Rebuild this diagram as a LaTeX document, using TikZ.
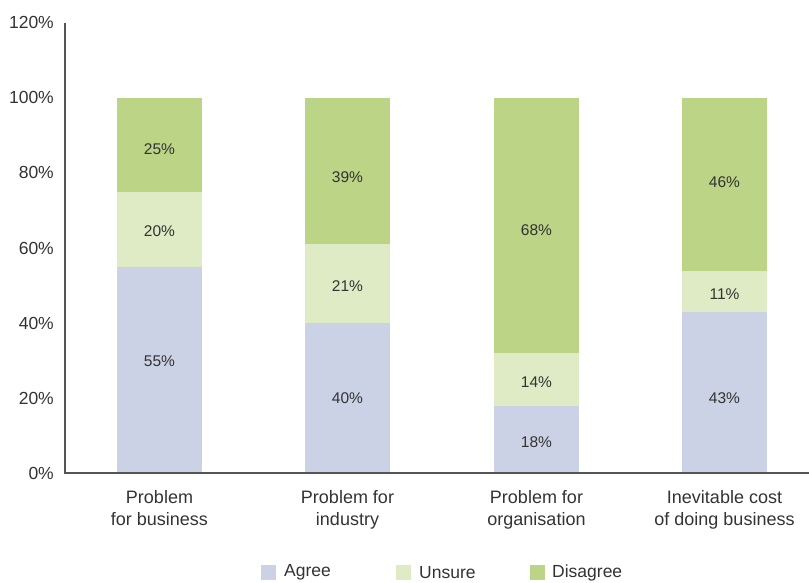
\documentclass[tikz,border=0pt]{standalone}
\usepackage{fontspec}
\setmainfont{Liberation Sans}
\definecolor{agree}{HTML}{CCD2E5}
\definecolor{unsure}{HTML}{DEEBC5}
\definecolor{disagree}{HTML}{BCD485}
\definecolor{txt}{HTML}{333333}
\definecolor{axis}{HTML}{555555}
\begin{document}
\begin{tikzpicture}[x=1bp,y=-1bp,
  lab/.style={font=\fontsize{17.5bp}{22bp}\selectfont, text=txt, inner sep=0pt},
  ticklab/.style={lab, anchor=east},
  catlab/.style={font=\fontsize{18bp}{22bp}\selectfont, text=txt, inner sep=0pt, align=center, anchor=north},
  seglab/.style={font=\fontsize{15.5bp}{18bp}\selectfont, text=txt, inner sep=0pt}]
\useasboundingbox (0,0) rectangle (809,583);
% tick labels
\foreach \v/\t in {0/0\%,20/20\%,40/40\%,60/60\%,80/80\%,100/100\%,120/120\%}
  \node[ticklab] (tick\v) at (54,{473.5-3.757*\v}) {\t};
% bars: index / centre x / values / label y positions
\foreach \i/\cx/\a/\u/\d/\la/\lu/\ld in {
   1/159.5/55/20/25/361/231/149,
   2/347.5/40/21/39/398/285.7/176.7,
   3/536.5/18/14/68/441.7/381.7/230,
   4/724.5/43/11/46/397.7/294.3/182.3}{
  \pgfmathsetmacro{\xl}{\cx-42.5}
  \pgfmathsetmacro{\xr}{\cx+42.5}
  \pgfmathsetmacro{\ya}{473-3.75*\a}
  \pgfmathsetmacro{\yu}{473-3.75*(\a+\u)}
  \pgfmathsetmacro{\yd}{473-3.75*100}
  \fill[agree] (\xl,473) rectangle (\xr,\ya);
  \fill[unsure] (\xl,\ya) rectangle (\xr,\yu);
  \fill[disagree] (\xl,\yu) rectangle (\xr,\yd);
  \node[seglab] (a\i) at (\cx,\la) {\a\%};
  \node[seglab] (u\i) at (\cx,\lu) {\u\%};
  \node[seglab] (d\i) at (\cx,\ld) {\d\%};
}
% axes
\draw[axis, line width=1.3bp] (65,23) -- (65,473);
\draw[axis, line width=2bp] (64.35,473) -- (809,473);
% category labels
\node[catlab] (c1) at (159.5,490) {Problem\\for business};
\node[catlab] (c2) at (347.5,490) {Problem for\\industry};
\node[catlab] (c3) at (536.5,490) {Problem for\\organisation};
\node[catlab] (c4) at (724.5,490) {Inevitable cost\\of doing business};
% legend
\fill[agree] (261,565) rectangle (276,580);
\node[lab, anchor=west] (la) at (284,572.5) {Agree};
\fill[unsure] (396,565) rectangle (411,580);
\node[lab, anchor=west] (lu) at (419,572.5) {Unsure};
\fill[disagree] (530,565) rectangle (545,580);
\node[lab, anchor=west] (ld) at (552,572.5) {Disagree};
\end{tikzpicture}
\end{document}
